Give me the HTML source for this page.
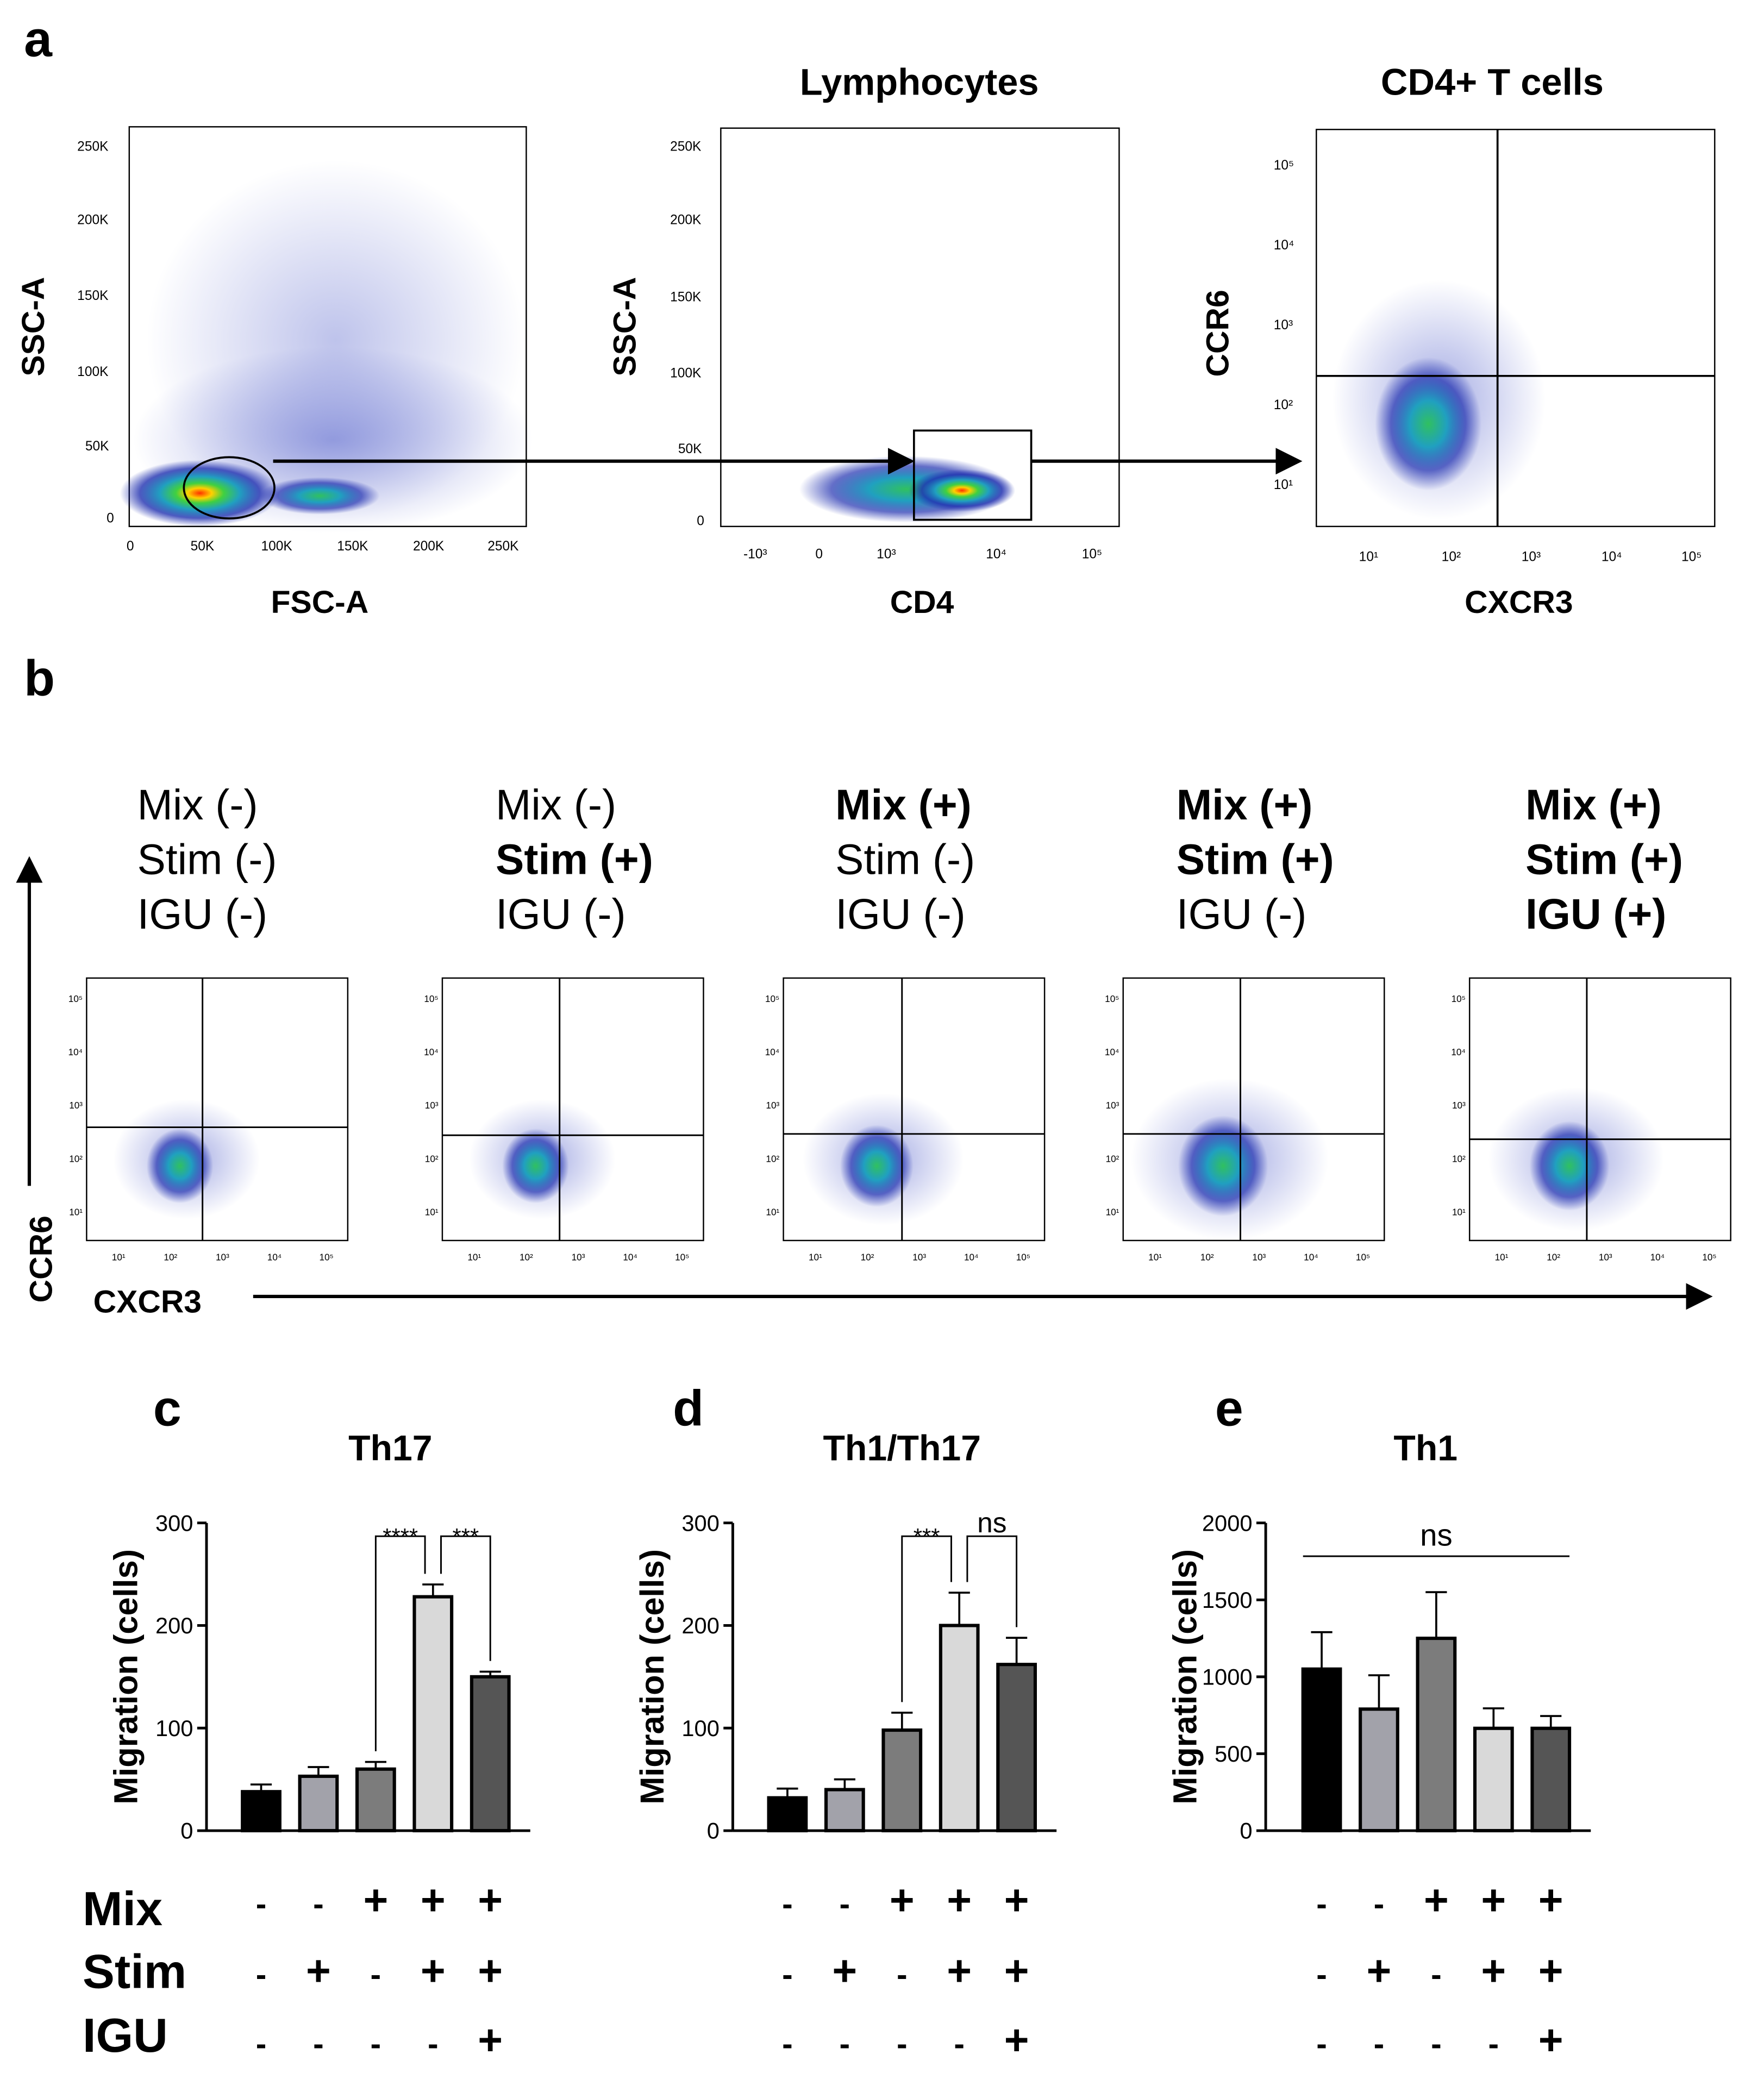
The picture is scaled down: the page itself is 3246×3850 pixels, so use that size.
<!DOCTYPE html>
<html><head><meta charset="utf-8">
<style>
html,body{margin:0;padding:0;background:#fff}
svg{display:block}
text{font-family:"Liberation Sans",Arial,sans-serif}
</style></head>
<body>
<svg id="fig" width="3246" height="3850" viewBox="0 0 1324 1570" xmlns="http://www.w3.org/2000/svg">
<defs>
<radialGradient id="dens" cx="50%" cy="50%" r="50%">
<stop offset="0" stop-color="#ff3000"/><stop offset="0.15" stop-color="#ffd000"/><stop offset="0.3" stop-color="#40d040"/><stop offset="0.5" stop-color="#20a0c0"/><stop offset="0.75" stop-color="#2030b0" stop-opacity="0.8"/><stop offset="1" stop-color="#2030b0" stop-opacity="0"/>
</radialGradient>
<radialGradient id="dens2" cx="50%" cy="50%" r="50%">
<stop offset="0" stop-color="#30c060"/><stop offset="0.35" stop-color="#20a0c0"/><stop offset="0.7" stop-color="#2030b0" stop-opacity="0.7"/><stop offset="1" stop-color="#2030b0" stop-opacity="0"/>
</radialGradient>
<radialGradient id="sparse" cx="50%" cy="50%" r="50%">
<stop offset="0" stop-color="#3040c0" stop-opacity="0.45"/><stop offset="1" stop-color="#3040c0" stop-opacity="0"/>
</radialGradient>
<marker id="ah" markerWidth="8" markerHeight="8" refX="7" refY="4" orient="auto"><path d="M0,0 L8,4 L0,8z" fill="#000"/></marker>
</defs>

<text x="18" y="42" font-size="38" font-weight="bold">a</text>
<text x="18" y="522" font-size="38" font-weight="bold">b</text>
<text x="115" y="1070" font-size="38" font-weight="bold">c</text>
<text x="505" y="1070" font-size="38" font-weight="bold">d</text>
<text x="912" y="1070" font-size="38" font-weight="bold">e</text>

<g>
<rect x="97" y="95" width="298" height="300" fill="#fff" stroke="#000"/>
<rect x="110" y="120" width="284" height="270" fill="url(#sparse)" opacity="0.7"/>
<ellipse cx="250" cy="330" rx="150" ry="70" fill="url(#sparse)"/>
<ellipse cx="150" cy="370" rx="60" ry="25" fill="url(#dens)"/>
<ellipse cx="240" cy="372" rx="45" ry="14" fill="url(#dens2)"/>
<ellipse cx="172" cy="366" rx="34" ry="23" fill="none" stroke="#000" stroke-width="1.5"/>
<text x="0" y="0" font-size="24" font-weight="bold" transform="translate(33,245) rotate(-90)" text-anchor="middle">SSC-A</text>
<text x="240" y="460" font-size="24" font-weight="bold" text-anchor="middle">FSC-A</text>
</g>
<g>
<rect x="541" y="96" width="299" height="299" fill="#fff" stroke="#000"/>
<ellipse cx="680" cy="367" rx="80" ry="25" fill="url(#dens2)"/>
<ellipse cx="722" cy="368" rx="40" ry="16" fill="url(#dens)"/>
<rect x="686" y="323" width="88" height="67" fill="none" stroke="#000" stroke-width="1.5"/>
<text x="690" y="71" font-size="28" font-weight="bold" text-anchor="middle">Lymphocytes</text>
<text x="0" y="0" font-size="24" font-weight="bold" transform="translate(477,245) rotate(-90)" text-anchor="middle">SSC-A</text>
<text x="692" y="460" font-size="24" font-weight="bold" text-anchor="middle">CD4</text>
</g>
<g>
<rect x="988" y="97" width="299" height="298" fill="#fff" stroke="#000"/>
<ellipse cx="1080" cy="300" rx="80" ry="90" fill="url(#sparse)"/>
<ellipse cx="1072" cy="318" rx="40" ry="50" fill="url(#dens2)"/>
<line x1="1124" y1="97" x2="1124" y2="395" stroke="#000" stroke-width="1.5"/>
<line x1="988" y1="282" x2="1287" y2="282" stroke="#000" stroke-width="1.5"/>
<text x="1120" y="71" font-size="28" font-weight="bold" text-anchor="middle">CD4+ T cells</text>
<text x="0" y="0" font-size="24" font-weight="bold" transform="translate(922,250) rotate(-90)" text-anchor="middle">CCR6</text>
<text x="1140" y="460" font-size="24" font-weight="bold" text-anchor="middle">CXCR3</text>
</g>
<g stroke="#000" stroke-width="2.5">
<line x1="205" y1="346" x2="684" y2="346" marker-end="url(#ah)"/>
<line x1="774" y1="346" x2="975" y2="346" marker-end="url(#ah)"/>
</g>
<g font-size="10" fill="#000">
<text x="58" y="113">250K</text><text x="58" y="168">200K</text><text x="58" y="225">150K</text><text x="58" y="282">100K</text><text x="64" y="338">50K</text><text x="80" y="392">0</text>
<text x="95" y="413">0</text><text x="143" y="413">50K</text><text x="196" y="413">100K</text><text x="253" y="413">150K</text><text x="310" y="413">200K</text><text x="366" y="413">250K</text>
<text x="503" y="113">250K</text><text x="503" y="168">200K</text><text x="503" y="226">150K</text><text x="503" y="283">100K</text><text x="509" y="340">50K</text><text x="523" y="394">0</text>
<text x="558" y="419">-10³</text><text x="612" y="419">0</text><text x="658" y="419">10³</text><text x="740" y="419">10⁴</text><text x="812" y="419">10⁵</text>
<text x="956" y="127">10⁵</text><text x="956" y="187">10⁴</text><text x="956" y="247">10³</text><text x="956" y="307">10²</text><text x="956" y="367">10¹</text>
<text x="1020" y="421">10¹</text><text x="1082" y="421">10²</text><text x="1142" y="421">10³</text><text x="1202" y="421">10⁴</text><text x="1262" y="421">10⁵</text>
</g>

<g font-size="32">
<text x="103" y="615">Mix (-)</text><text x="103" y="656">Stim (-)</text><text x="103" y="697">IGU (-)</text>
<text x="372" y="615">Mix (-)</text><text x="372" y="656" font-weight="bold">Stim (+)</text><text x="372" y="697">IGU (-)</text>
<text x="627" y="615" font-weight="bold">Mix (+)</text><text x="627" y="656">Stim (-)</text><text x="627" y="697">IGU (-)</text>
<text x="883" y="615" font-weight="bold">Mix (+)</text><text x="883" y="656" font-weight="bold">Stim (+)</text><text x="883" y="697">IGU (-)</text>
<text x="1145" y="615" font-weight="bold">Mix (+)</text><text x="1145" y="656" font-weight="bold">Stim (+)</text><text x="1145" y="697" font-weight="bold">IGU (+)</text>
</g>
<g id="bplots"></g>
<g stroke="#000" stroke-width="2.5">
<line x1="22" y1="890" x2="22" y2="645" marker-end="url(#ah)"/>
<line x1="190" y1="973" x2="1283" y2="973" marker-end="url(#ah)"/>
</g>
<text x="0" y="0" font-size="24" font-weight="bold" transform="translate(39,945) rotate(-90)" text-anchor="middle">CCR6</text>
<text x="70" y="985" font-size="24" font-weight="bold">CXCR3</text>

<g id="bars"></g>
</svg>
<script>
const NS="http://www.w3.org/2000/svg";
function mk(p,tag,attrs,txt){const e=document.createElementNS(NS,tag);for(const k in attrs)e.setAttribute(k,attrs[k]);if(txt!==undefined)e.textContent=txt;p.appendChild(e);return e;}

const bX=[65,332,588,843,1103];
const bQx=[152,420,677,931,1191];
const bQy=[846,852,851,851,855];
const bSpread=[1,1,1.1,1.35,1.2];
const logLabels=["10¹","10²","10³","10⁴","10⁵"];
const bp=document.getElementById('bplots');
bX.forEach((x,i)=>{
 const g=mk(bp,'g',{});
 
 
 mk(g,'rect',{x:x,y:734,width:196,height:197,fill:'#fff',stroke:'#000'});
 const cx=x+70+(i>2?5:0), cy=875;
 mk(g,'ellipse',{cx:cx+5,cy:cy-5,rx:55*bSpread[i],ry:45*bSpread[i],fill:'url(#sparse)'});
 mk(g,'ellipse',{cx:cx,cy:cy,rx:25*bSpread[i],ry:28*bSpread[i],fill:'url(#dens2)'});
 mk(g,'line',{x1:bQx[i],y1:734,x2:bQx[i],y2:931,stroke:'#000','stroke-width':1.2});
 mk(g,'line',{x1:x,y1:bQy[i],x2:x+196,y2:bQy[i],stroke:'#000','stroke-width':1.2});
 logLabels.forEach((l,k)=>{
  mk(g,'text',{x:x+24+k*39,y:946,'font-size':7,'text-anchor':'middle'},l);
  mk(g,'text',{x:x-3,y:912-k*40,'font-size':7,'text-anchor':'end'},l);
 });
});

const categories=["Mix-/Stim-/IGU-","Mix-/Stim+/IGU-","Mix+/Stim-/IGU-","Mix+/Stim+/IGU-","Mix+/Stim+/IGU+"];
const th17Values=[38,53,60,228,150];
const th17Err=[7,9,7,12,5];
const th1th17Values=[32,40,98,200,162];
const th1th17Err=[9,10,17,32,26];
const th1Values=[1050,790,1250,665,665];
const th1Err=[240,220,300,130,80];
const th17Ticks=[0,100,200,300];
const th1th17Ticks=[0,100,200,300];
const th1Ticks=[0,500,1000,1500,2000];
const mixSigns=["-","-","+","+","+"];
const stimSigns=["-","+","-","+","+"];
const iguSigns=["-","-","-","-","+"];
const barColors=["#000","#a2a2aa","#7c7c7c","#d9d9d9","#555"];

const charts=[
 {name:'th17',title:'Th17',tx:293,ax:155,vals:th17Values,err:th17Err,ticks:th17Ticks,max:300,x0:196,
  brackets:[[2,3,'****'],[3,4,'***']]},
 {name:'th1-th17',title:'Th1/Th17',tx:677,ax:550,vals:th1th17Values,err:th1th17Err,ticks:th1th17Ticks,max:300,x0:591,
  brackets:[[2,3,'***'],[3,4,'ns']]},
 {name:'th1',title:'Th1',tx:1070,ax:950,vals:th1Values,err:th1Err,ticks:th1Ticks,max:2000,x0:992,brackets:[]}
];
const bars=document.getElementById('bars');
const yTop=1143,yBot=1374,step=43,bw=28;
charts.forEach(c=>{
 const g=mk(bars,'g',{});
 
 
 const y=v=>yBot-(v/c.max)*(yBot-yTop);
 const xc=i=>c.x0+i*step;
 const t=mk(g,'text',{x:c.tx,y:1096,'font-size':27,'font-weight':'bold','text-anchor':'middle'},c.title);
 
 
 const yl=mk(g,'text',{x:0,y:0,'font-size':25,'font-weight':'bold','text-anchor':'middle',transform:`translate(${c.ax-52},${(yTop+yBot)/2}) rotate(-90)`},'Migration (cells)');
 
 
 mk(g,'line',{x1:c.ax,y1:yTop,x2:c.ax,y2:yBot,stroke:'#000','stroke-width':2});
 mk(g,'line',{x1:c.ax,y1:yBot,x2:xc(4)+30,y2:yBot,stroke:'#000','stroke-width':2});
 c.ticks.forEach(v=>{
  mk(g,'line',{x1:c.ax-7,y1:y(v),x2:c.ax,y2:y(v),stroke:'#000','stroke-width':2});
  const tl=mk(g,'text',{x:c.ax-10,y:y(v)+6,'font-size':17,'text-anchor':'end'},String(v));
  
  
 });
 c.vals.forEach((v,i)=>{
  const top=y(v+c.err[i]);
  mk(g,'line',{x1:xc(i),y1:y(v),x2:xc(i),y2:top,stroke:'#000','stroke-width':1.5});
  mk(g,'line',{x1:xc(i)-8,y1:top,x2:xc(i)+8,y2:top,stroke:'#000','stroke-width':1.5});
  const r=mk(g,'rect',{x:xc(i)-bw/2,y:y(v),width:bw,height:yBot-y(v),fill:barColors[i],stroke:'#000','stroke-width':2.5});
  
  
 });
 c.brackets.forEach(b=>{
  const [a,bb,lab]=b;
  const yb=yTop+10;
  const ya=y(c.vals[a]+c.err[a])-8, ybb=y(c.vals[bb]+c.err[bb])-8;
  const x1=xc(a)+(a===3?6:0), x2=xc(bb)-(bb===3?6:0);
  mk(g,'path',{d:`M${x1},${ya} L${x1},${yb} L${x2},${yb} L${x2},${ybb}`,fill:'none',stroke:'#000','stroke-width':1.2});
  const sl=mk(g,'text',{x:(x1+x2)/2,y:yb-(lab==='ns'?3:-6),'font-size':lab==='ns'?21:17,'text-anchor':'middle'},lab);
  
  
 });
 if(c.brackets.length===0){
  mk(g,'line',{x1:c.ax+28,y1:1168,x2:xc(4)+14,y2:1168,stroke:'#000','stroke-width':1.2});
  const ns=mk(g,'text',{x:(c.ax+28+xc(4)+14)/2,y:1160,'font-size':23,'text-anchor':'middle'},'ns');
  
  
 }
 [[mixSigns,1437],[stimSigns,1490],[iguSigns,1542]].forEach(([s,yy])=>{
  s.forEach((sg,i)=>{
   const st=mk(g,'text',{x:xc(i),y:yy,'font-size':sg==='+'?32:24,'font-weight':'bold','text-anchor':'middle'},sg==='+'?'+':'-');
   
   
  });
 });
});
[['Mix',1445],['Stim',1492],['IGU',1540]].forEach(([l,yy])=>{
 const t=mk(bars,'text',{x:62,y:yy,'font-size':36,'font-weight':'bold'},l);
 
 
});
</script>
</body></html>
